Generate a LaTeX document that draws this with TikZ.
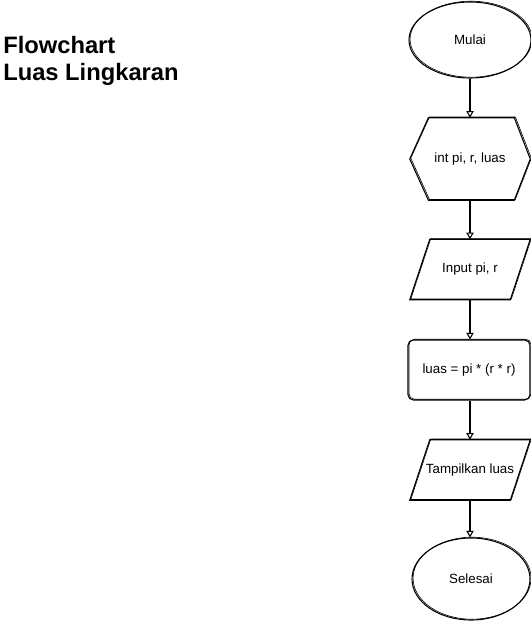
\documentclass[tikz,border=0pt]{standalone}
\usepackage{fontspec}
\setmainfont{Liberation Sans}
\usepackage{tikz}
\usetikzlibrary{shapes.geometric, arrows.meta}
\usetikzlibrary{calc}
\usetikzlibrary{positioning}

\begin{document}
\begin{tikzpicture}[x=0.75pt,y=0.75pt,yscale=-1,xscale=1]
  \useasboundingbox (0,0) rectangle (531,621);
  \tikzstyle{arrow} = [line width=0.8pt,-{Triangle[open,length=5pt,width=5.5pt]}]
  \tikzstyle{sketch} = [draw, line width=0.8pt, postaction={draw, line width=0.45pt, transform canvas={xshift=0.8pt,yshift=0.6pt}}]
  \tikzstyle{txt} = [font=\fontsize{10}{12}\selectfont, inner sep=0.75pt]
  \tikzstyle{io} = [txt, minimum width=90pt, minimum height=45pt]
  %Draw the title
  \draw (3,36.5) node [anchor=north west][inner sep=0pt, align=left, font=\fontsize{17.8}{20}\selectfont\bfseries] (judul) {Flowchart\\Luas Lingkaran};
  %Draw start and declaration
  \node[ellipse, sketch, txt, minimum width=91.5pt, minimum height=57pt] (mulai) at (470,40) {Mulai};
  \node[txt, minimum width=90pt, minimum height=61.5pt] (deklarasi) at (470,159) {int pi, r, luas};
  \draw[sketch] (deklarasi.west) -- ([xshift=14pt]deklarasi.north west) -- ([xshift=-12pt]deklarasi.north east) -- (deklarasi.east) -- ([xshift=-12pt]deklarasi.south east) -- ([xshift=14pt]deklarasi.south west) -- cycle;
  %Draw input, process and output
  \node[io] (input) at (470,269.5) {Input pi, r};
  \draw[sketch] ([xshift=15pt]input.north west) -- (input.north east) -- ([xshift=-15pt]input.south east) -- (input.south west) -- cycle;
  \node[rectangle, rounded corners=4pt, sketch, txt, minimum width=91.5pt, minimum height=45pt] (proses) at (469,370) {luas = pi * (r * r)};
  \node[io] (tampil) at (470,470) {Tampilkan luas};
  \draw[sketch] ([xshift=15pt]tampil.north west) -- (tampil.north east) -- ([xshift=-15pt]tampil.south east) -- (tampil.south west) -- cycle;
  %Draw the end
  \node[ellipse, sketch, txt, minimum width=88.5pt, minimum height=61.5pt] (selesai) at (471,579) {Selesai};
  % Connect the nodes
  \draw[arrow] (mulai.south) -- (deklarasi.north);
  \draw[arrow] (deklarasi.south) -- (input.north);
  \draw[arrow] (input.south) -- (proses.north -| input.south);
  \draw[arrow] (proses.south -| tampil.north) -- (tampil.north);
  \draw[arrow] (tampil.south) -- (selesai.north -| tampil.south);
\end{tikzpicture}
\end{document}
